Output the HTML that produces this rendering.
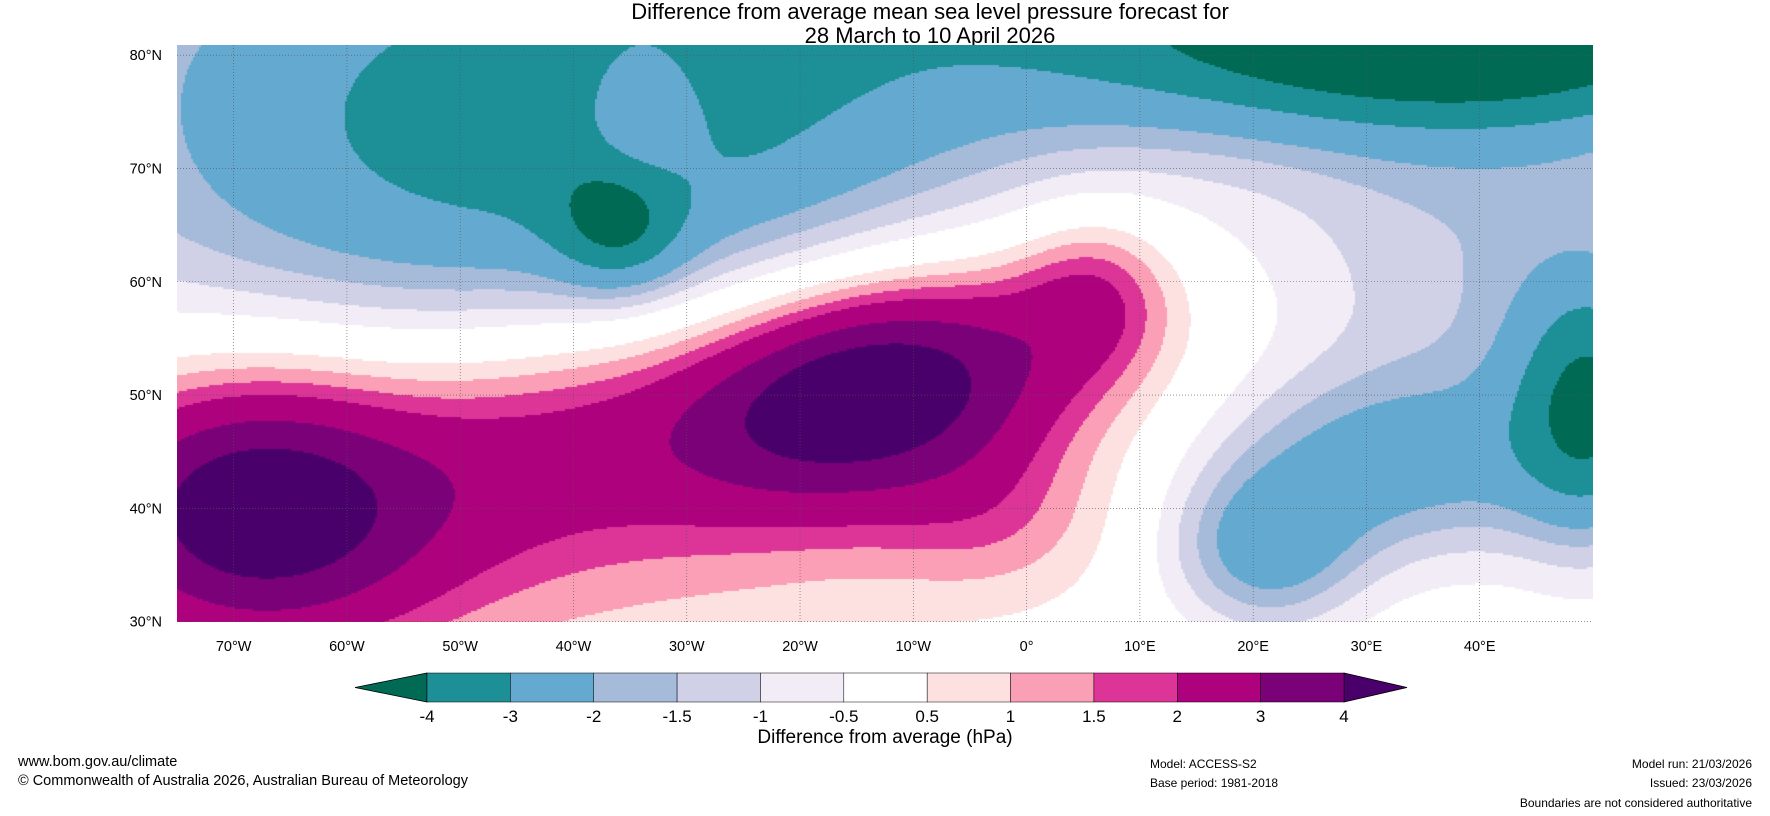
<!DOCTYPE html>
<html><head><meta charset="utf-8">
<style>
body{margin:0;background:#fff;width:1770px;height:816px;position:relative;overflow:hidden;font-family:"Liberation Sans",sans-serif;color:#000}
.t{position:absolute;white-space:nowrap}
</style></head>
<body>
<div class="t" style="left:0;width:1860px;text-align:center;top:0;font-size:22px;line-height:24px">Difference from average mean sea level pressure forecast for<br>28 March to 10 April 2026</div>
<canvas id="map" width="1416" height="577" style="position:absolute;left:177px;top:45px"></canvas>
<svg id="ov" width="1770" height="816" style="position:absolute;left:0;top:0"></svg>
<div class="t" style="left:0;width:1770px;text-align:center;top:727px;font-size:19px">Difference from average (hPa)</div>
<div class="t" style="left:18px;top:754px;font-size:14.5px">www.bom.gov.au/climate</div>
<div class="t" style="left:18px;top:773px;font-size:14.5px">© Commonwealth of Australia 2026, Australian Bureau of Meteorology</div>
<div class="t" style="left:1150px;top:757px;font-size:12px">Model: ACCESS-S2</div>
<div class="t" style="left:1150px;top:776px;font-size:12px">Base period: 1981-2018</div>
<div class="t" style="right:18px;top:757px;font-size:12px">Model run: 21/03/2026</div>
<div class="t" style="right:18px;top:776px;font-size:12px">Issued: 23/03/2026</div>
<div class="t" style="right:18px;top:796px;font-size:12px">Boundaries are not considered authoritative</div>
<script>
const levels=[-4,-3,-2,-1.5,-1,-0.5,0.5,1,1.5,2,3,4];
const levelLabels=["-4","-3","-2","-1.5","-1","-0.5","0.5","1","1.5","2","3","4"];
const colors=["#006a55","#1d8f96","#64a9cf","#a6bada","#d0d1e6","#f1ecf5","#ffffff","#fde0e0","#fa9fb5","#dd3497","#ae017e","#7a0177","#49006a"];
const lonTicks=[-70,-60,-50,-40,-30,-20,-10,0,10,20,30,40];
const latTicks=[30,40,50,60,70,80];
// anomaly centres (lon, lat, amplitude hPa, spread lon, spread lat, rotation deg)
const cLon=[-14,-68,-43,6,-3,-40,-36,-34,38,50,32,21,40,-30,0];
const cLat=[50.5,40,46,59,39,70,65,74,82,49,44,36,62,47,86];
const cAmp=[4.4,4.3,1.0,1.6,0.8,-3.5,-2.1,1.4,-4.3,-3.4,-2.2,-2.2,-1.5,1.7,-1.6];
const cSx=[12,11,10,5,7,30,4,4,22,5,12,6,15,35,60];
const cSy=[6.5,8,7,5,5,13,4,5,6,8,6,5,12,13,9];
const cRot=[12,0,15,60,0,0,0,0,0,0,0,0,0,12,0];

const W=1416,H=577,L=177,T=45,lon0=-75,lon1=50,latTop=80.9,pxd=W/(lon1-lon0);
const xOf=lon=>L+(lon-lon0)*pxd, yOf=lat=>T+(latTop-lat)*pxd;
function field(lon,lat){let s=0;for(let i=0;i<cLon.length;i++){const r=cRot[i]*Math.PI/180;const dx=lon-cLon[i],dy=lat-cLat[i];const u=dx*Math.cos(r)+dy*Math.sin(r),v=-dx*Math.sin(r)+dy*Math.cos(r);s+=cAmp[i]*Math.exp(-0.5*(u*u/(cSx[i]*cSx[i])+v*v/(cSy[i]*cSy[i])));}return s;}
function colorOf(v){let k=0;while(k<levels.length&&v>=levels[k])k++;return colors[k];}
const ctx=document.getElementById('map').getContext('2d');
const st=2;
for(let y=0;y<H;y+=st)for(let x=0;x<W;x+=st){const lon=lon0+(x+1)/pxd,lat=latTop-(y+1)/pxd;ctx.fillStyle=colorOf(field(lon,lat));ctx.fillRect(x,y,st,st);}
const NS='http://www.w3.org/2000/svg',svg=document.getElementById('ov');
function mk(t,a){const e=document.createElementNS(NS,t);for(const k in a)e.setAttribute(k,a[k]);svg.appendChild(e);return e;}
lonTicks.forEach(lon=>{const x=xOf(lon);
 const g=mk('line',{x1:x,x2:x,y1:T,y2:T+H,stroke:'#555','stroke-width':0.6,'stroke-dasharray':'1,2'});
 
 
 const t=mk('text',{x:x,y:651,'text-anchor':'middle','font-size':14.5,'font-family':'Liberation Sans'});t.textContent=lon===0?'0°':Math.abs(lon)+'°'+(lon<0?'W':'E');
 
 });
latTicks.forEach(lat=>{const y=yOf(lat);
 const g=mk('line',{x1:L,x2:L+W,y1:y,y2:y,stroke:'#555','stroke-width':0.6,'stroke-dasharray':'1,2'});
 
 
 const t=mk('text',{x:162,y:y+5,'text-anchor':'end','font-size':14.5,'font-family':'Liberation Sans'});t.textContent=lat+'°N';
 
 });
const cbL=427,cbR=1344,cbT=673,cbB=702,n=levels.length-1,sw=(cbR-cbL)/n;
const lt=mk('polygon',{points:`355,${(cbT+cbB)/2} ${cbL},${cbT} ${cbL},${cbB}`,fill:colors[0],stroke:'#000','stroke-width':0.8});


const rt=mk('polygon',{points:`1407,${(cbT+cbB)/2} ${cbR},${cbT} ${cbR},${cbB}`,fill:colors[12],stroke:'#000','stroke-width':0.8});


for(let i=0;i<n;i++){const r=mk('rect',{x:cbL+i*sw,y:cbT,width:sw,height:cbB-cbT,fill:colors[i+1],stroke:'#000','stroke-width':0.5});
 
 }
levelLabels.forEach((s,i)=>{const t=mk('text',{x:cbL+i*sw,y:722,'text-anchor':'middle','font-size':17,'font-family':'Liberation Sans'});t.textContent=s;
 
 });
</script>
</body></html>
